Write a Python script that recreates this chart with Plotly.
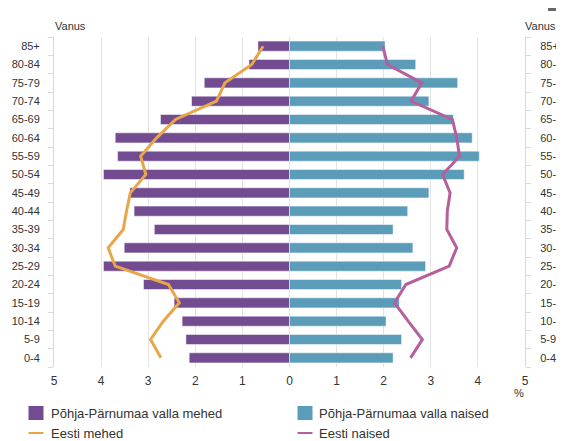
import plotly.graph_objects as go

age_groups = ["0-4", "5-9", "10-14", "15-19", "20-24", "25-29", "30-34", "35-39",
              "40-44", "45-49", "50-54", "55-59", "60-64", "65-69", "70-74",
              "75-79", "80-84", "85+"]

men_local = [2.13, 2.20, 2.28, 2.45, 3.10, 3.95, 3.51, 2.87, 3.30, 3.39,
             3.95, 3.65, 3.70, 2.74, 2.08, 1.81, 0.86, 0.67]
women_local = [2.20, 2.38, 2.05, 2.33, 2.38, 2.89, 2.62, 2.20, 2.51, 2.96,
               3.71, 4.03, 3.88, 3.48, 2.96, 3.57, 2.68, 2.03]
men_estonia = [2.73, 2.95, 2.68, 2.34, 2.57, 3.70, 3.85, 3.53, 3.46, 3.38,
               3.05, 3.16, 2.82, 2.42, 1.55, 1.37, 0.80, 0.56]
women_estonia = [2.57, 2.82, 2.52, 2.23, 2.47, 3.39, 3.55, 3.34, 3.35, 3.41,
                 3.25, 3.61, 3.55, 3.46, 2.58, 2.81, 2.08, 1.98]

x_ticks = [-5, -4, -3, -2, -1, 0, 1, 2, 3, 4, 5]
x_tick_text = ["5", "4", "3", "2", "1", "0", "1", "2", "3", "4", "5"]

series_names = ["Põhja-Pärnumaa valla mehed", "Põhja-Pärnumaa valla naised",
                "Eesti mehed", "Eesti naised"]

C_MEN = "#724b90"
C_WOMEN = "#5b9cb9"
C_MEN_EE = "#e8a64a"
C_WOMEN_EE = "#b5609d"

# the page body has an 8px default margin, so the figure is sized to fit
OFF = 8
W, H = 564 - OFF, 441 - OFF
ML, MT = 54 - OFF, 37 - OFF
MR = W - (525 - OFF)
MB = H - (367 - OFF)
PW, PH = W - ML - MR, H - MT - MB


def px(x):
    """screen x -> paper fraction"""
    return (x - OFF - ML) / PW


def py(y):
    """screen y -> paper fraction"""
    return (H - MB - (y - OFF)) / PH


fig = go.Figure()
fig.add_trace(go.Bar(
    y=age_groups, x=[-v for v in men_local], orientation="h",
    name=series_names[0], showlegend=False,
    marker=dict(color=C_MEN, line=dict(color="rgba(255,255,255,0.5)", width=1)),
    customdata=men_local, hovertemplate="%{y}: %{customdata}%<extra></extra>"))
fig.add_trace(go.Bar(
    y=age_groups, x=women_local, orientation="h",
    name=series_names[1], showlegend=False,
    marker=dict(color=C_WOMEN, line=dict(color="rgba(255,255,255,0.5)", width=1)),
    hovertemplate="%{y}: %{x}%<extra></extra>"))
fig.add_trace(go.Scatter(
    y=age_groups, x=[-v for v in men_estonia], mode="lines",
    name=series_names[2], showlegend=False, line=dict(color=C_MEN_EE, width=3),
    customdata=men_estonia, hovertemplate="%{y}: %{customdata}%<extra></extra>"))
fig.add_trace(go.Scatter(
    y=age_groups, x=women_estonia, mode="lines",
    name=series_names[3], showlegend=False, line=dict(color=C_WOMEN_EE, width=3),
    hovertemplate="%{y}: %{x}%<extra></extra>"))
# invisible trace to activate the right-hand category axis
fig.add_trace(go.Scatter(
    y=age_groups, x=[0] * len(age_groups), yaxis="y2", mode="markers",
    marker=dict(opacity=0), showlegend=False, hoverinfo="skip"))

font_family = "Liberation Sans, Arial, sans-serif"
yax_common = dict(
    type="category", categoryorder="array", categoryarray=age_groups,
    range=[-0.5, len(age_groups) - 0.5],
    showgrid=False, showline=True, linecolor="#d9d9d9", linewidth=1,
    ticks="outside", ticklen=5, tickcolor="#d9d9d9", tickson="boundaries",
    tickfont=dict(size=11, color="#333333", family=font_family),
    zeroline=False, fixedrange=True, automargin=False,
)

shapes = [
    # legend: squares for bars
    dict(type="rect", xref="paper", yref="paper", x0=px(28.5), x1=px(43.5),
         y0=py(420), y1=py(406), fillcolor=C_MEN, line=dict(width=0)),
    dict(type="rect", xref="paper", yref="paper", x0=px(297.5), x1=px(312.5),
         y0=py(420), y1=py(406), fillcolor=C_WOMEN, line=dict(width=0)),
    # legend: lines
    dict(type="line", xref="paper", yref="paper", x0=px(28.5), x1=px(43.5),
         y0=py(433), y1=py(433), line=dict(color=C_MEN_EE, width=2)),
    dict(type="line", xref="paper", yref="paper", x0=px(297.5), x1=px(312.5),
         y0=py(433), y1=py(433), line=dict(color=C_WOMEN_EE, width=2)),
    # menu icon bar (top right)
    dict(type="line", xref="paper", yref="paper", x0=px(548), x1=px(566),
         y0=py(9.5), y1=py(9.5), line=dict(color="#666666", width=3)),
]

legend_text = [
    (series_names[0], 49, 413),
    (series_names[1], 317, 413),
    (series_names[2], 49, 433),
    (series_names[3], 317, 433),
]
annotations = [
    dict(text=t, xref="paper", yref="paper", x=px(xx), y=py(yy),
         xanchor="left", yanchor="middle", showarrow=False,
         font=dict(size=13, color="#333333"))
    for t, xx, yy in legend_text
]
annotations += [
    dict(text="Vanus", xref="paper", yref="paper", x=px(53), y=py(26),
         xanchor="left", yanchor="middle", showarrow=False,
         font=dict(size=11, color="#333333")),
    dict(text="Vanus", xref="paper", yref="paper", x=px(523), y=py(26),
         xanchor="left", yanchor="middle", showarrow=False,
         font=dict(size=11, color="#333333")),
    dict(text="%", xref="paper", yref="paper", x=px(519), y=py(393),
         xanchor="center", yanchor="middle", showarrow=False,
         font=dict(size=11, color="#333333")),
]

fig.update_layout(
    width=W, height=H,
    margin=dict(l=ML, r=MR, t=MT, b=MB, autoexpand=False),
    paper_bgcolor="white", plot_bgcolor="white",
    barmode="overlay", bargap=0.45,
    font=dict(family=font_family, size=12, color="#333333"),
    xaxis=dict(
        range=[-5, 5], tickvals=x_ticks, ticktext=x_tick_text,
        showgrid=True, gridcolor="#e3e3e3", gridwidth=1,
        zeroline=False, showline=False, ticks="", ticklen=0,
        ticklabelstandoff=5,
        tickfont=dict(size=12, color="#333333"), fixedrange=True,
        automargin=False,
    ),
    yaxis=dict(side="left", ticklabelstandoff=11, **yax_common),
    yaxis2=dict(side="right", overlaying="y", ticklabelstandoff=12, **yax_common),
    showlegend=False,
    shapes=shapes,
    annotations=annotations,
)

fig.write_html("out.html")
